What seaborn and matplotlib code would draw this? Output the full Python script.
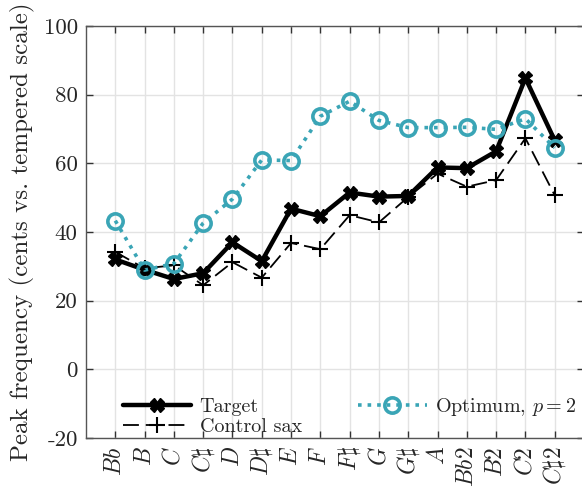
import matplotlib
matplotlib.use("Agg")
import matplotlib.pyplot as plt
import numpy as np
import pandas as pd
import seaborn as sns

# note names along the x axis
notes = [r'$Bb$', r'$B$', r'$C$', r'$C\sharp$', r'$D$', r'$D\sharp$', r'$E$', r'$F$',
         r'$F\sharp$', r'$G$', r'$G\sharp$', r'$A$', r'$Bb2$', r'$B2$', r'$C2$', r'$C\sharp2$']

# peak frequency in cents vs. tempered scale
target = [32.0, 29.0, 26.3, 28.0, 37.0, 31.5, 46.8, 44.6, 51.5, 50.3, 50.5, 58.8, 58.6, 63.5, 84.8, 66.7]
control = [34.2, 29.4, 30.3, 24.5, 31.2, 26.7, 36.8, 35.0, 44.9, 42.8, 50.2, 57.0, 53.2, 55.1, 67.3, 50.7]
optimum = [43.3, 28.9, 30.8, 42.6, 49.6, 61.0, 60.8, 73.7, 78.1, 72.5, 70.4, 70.4, 70.5, 69.9, 73.0, 64.5]

yticks = [-20, 0, 20, 40, 60, 80, 100]

sns.set_theme(style="white")
plt.rcParams['font.family'] = ['cmr10', 'DejaVu Serif']
plt.rcParams['mathtext.fontset'] = 'cm'
plt.rcParams['axes.unicode_minus'] = False

teal = "#3aa5b6"
x = np.arange(1, len(notes) + 1)
df = pd.DataFrame({'x': x, 'target': target, 'control': control, 'optimum': optimum})

fig = plt.figure(figsize=(5.82, 4.92), dpi=100)
ax = fig.add_axes([86 / 582, 1 - 438 / 492, (584 - 86) / 582, (438 - 26) / 492])

sns.lineplot(data=df, x='x', y='target', ax=ax, color='black', lw=3.2,
             marker='X', markersize=10, markeredgecolor='black', markeredgewidth=1,
             label='Target', zorder=4)
sns.lineplot(data=df, x='x', y='control', ax=ax, color='black', lw=1.3,
             linestyle=(0, (8.8, 3.8)), marker='+', markersize=12,
             markeredgecolor='black', markeredgewidth=1.5, label='Control sax', zorder=3)
sns.lineplot(data=df, x='x', y='optimum', ax=ax, color=teal, lw=2.6, linestyle=':',
             marker='o', markersize=11, markerfacecolor='none', markeredgecolor=teal,
             markeredgewidth=2.6, label=r'Optimum, $p=2$', zorder=5)

ax.set_xlim(0, 17)
ax.set_ylim(-20, 100)
ax.set_xticks(x)
ax.set_xticklabels(notes, rotation=90, fontsize=17)
ax.set_yticks(yticks)
ax.set_yticklabels([str(v) for v in yticks], fontsize=16.5)
ax.set_xlabel('')
ax.set_ylabel('Peak frequency (cents vs. tempered scale)', fontsize=18, labelpad=6)

ax.grid(True, color='#e3e3e3', lw=1.0)
ax.set_axisbelow(True)
ax.tick_params(direction='in', length=5, width=1, color='#333333', top=True, right=True,
               bottom=True, left=True, pad=6)
for spine in ax.spines.values():
    spine.set_linewidth(1.0)
    spine.set_edgecolor('#555555')

ax.legend(ncol=2, frameon=False, fontsize=14.5, loc='lower left',
          bbox_to_anchor=((123 - 86) / 498, 0.005), borderaxespad=0, borderpad=0,
          handlelength=3.4, handletextpad=0.4, columnspacing=2.8, labelspacing=0.1)

fig.savefig('out.png', dpi=100)
